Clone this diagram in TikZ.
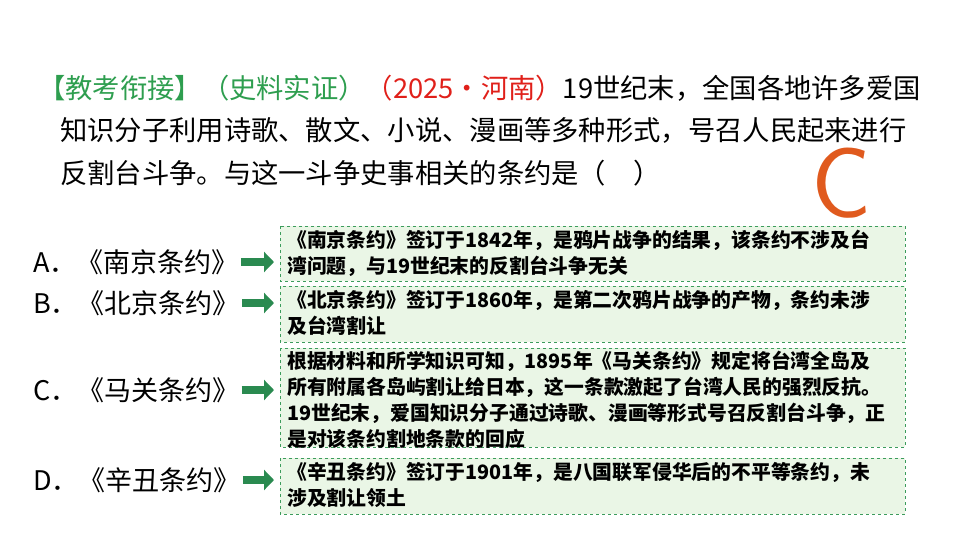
\documentclass[tikz,border=0pt]{standalone}
\usepackage{fontspec}
\newfontfamily\cjk{Noto Sans CJK SC}
\setmainfont{Noto Sans CJK SC}
\definecolor{tgreen}{HTML}{2E9E4F}
\definecolor{tred}{HTML}{E0201A}
\definecolor{bfill}{HTML}{EAF6E6}
\definecolor{bdraw}{HTML}{3C9C5C}
\definecolor{arr}{HTML}{2A8A50}
\definecolor{cor}{HTML}{E05A1E}
\tikzset{
 qline/.style={anchor=west,inner sep=0pt,font=\cjk\fontsize{27.3}{30}\selectfont},
 opt/.style={anchor=west,inner sep=0pt,font=\cjk\fontsize{27}{30}\selectfont},
 box/.style={draw=bdraw,dashed,fill=bfill,line width=1pt},
 btxt/.style={anchor=north west,inner sep=0pt,align=left,font=\cjk\bfseries\fontsize{19.8}{26}\selectfont},
 garrow/.style={-{Triangle[length=10pt,width=20pt]},arr,line width=8pt}
}
\usetikzlibrary{arrows.meta}
\begin{document}
\begin{tikzpicture}[x=1pt,y=-1pt]
\useasboundingbox (0,0) rectangle (960,540);
\node[qline] (l1) at (38,88) {\textcolor{tgreen}{【教考衔接】（史料实证）}\textcolor{tred}{（2025·河南）}19世纪末，全国各地许多爱国};
\node[qline] (l2) at (60,130) {知识分子利用诗歌、散文、小说、漫画等多种形式，号召人民起来进行};
\node[qline] (l3) at (60,173) {反割台斗争。与这一斗争史事相关的条约是（　）};
\node[font=\fontfamily{lmss}\selectfont\fontsize{100}{100}\selectfont,text=cor,inner sep=0pt] (ans) at (842,183) {C};

\node[opt] (oa) at (33,262) {A．《南京条约》};
\node[opt] (ob) at (33,303) {B．《北京条约》};
\node[opt] (oc) at (33,390) {C．《马关条约》};
\node[opt] (od) at (33,480) {D．《辛丑条约》};

\draw[box] (280,226) rectangle (905,281); \coordinate (ba) at (274,262);
\draw[box] (280,286) rectangle (905,342); \coordinate (bb) at (274,303);
\draw[box] (280,348) rectangle (905,447); \coordinate (bc) at (274,390);
\draw[box] (280,458) rectangle (905,514); \coordinate (bd) at (274,480);

\draw[garrow] (oa.east)++(2,0) coordinate (aa) (aa) -- (ba);
\draw[garrow] (ob.east)++(2,0) coordinate (ab) (ab) -- (bb);
\draw[garrow] (oc.east)++(2,0) coordinate (ac) (ac) -- (bc);
\draw[garrow] (od.east)++(2,0) coordinate (ad) (ad) -- (bd);

\node[btxt] (ta) at (287,230) {《南京条约》签订于1842年，是鸦片战争的结果，该条约不涉及台\\湾问题，与19世纪末的反割台斗争无关};
\node[btxt] (tb) at (287,290) {《北京条约》签订于1860年，是第二次鸦片战争的产物，条约未涉\\及台湾割让};
\node[btxt] (tc) at (287,351) {根据材料和所学知识可知，1895年《马关条约》规定将台湾全岛及\\所有附属各岛屿割让给日本，这一条款激起了台湾人民的强烈反抗。\\19世纪末，爱国知识分子通过诗歌、漫画等形式号召反割台斗争，正\\是对该条约割地条款的回应};
\node[btxt] (td) at (287,462) {《辛丑条约》签订于1901年，是八国联军侵华后的不平等条约，未\\涉及割让领土};
\end{tikzpicture}
\end{document}
